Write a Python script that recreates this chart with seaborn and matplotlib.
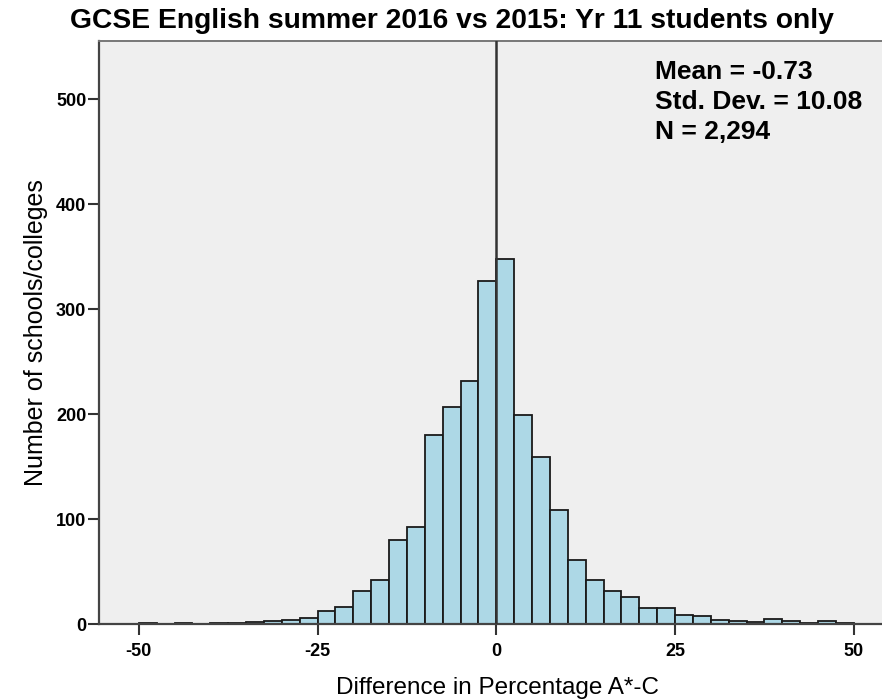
import numpy as np
import pandas as pd
import matplotlib
matplotlib.use("Agg")
import matplotlib.pyplot as plt
import seaborn as sns

# Bin left edges (width 2.5) and counts
bin_starts = [-50, -47.5, -45, -42.5, -40, -37.5, -35, -32.5, -30, -27.5,
              -25, -22.5, -20, -17.5, -15, -12.5, -10, -7.5, -5, -2.5,
              0, 2.5, 5, 7.5, 10, 12.5, 15, 17.5, 20, 22.5,
              25, 27.5, 30, 32.5, 35, 37.5, 40, 42.5, 45, 47.5]
counts = [1, 0, 1, 0, 1, 1, 2, 3, 4, 6,
          13, 17, 32, 42, 80, 93, 180, 207, 232, 327,
          348, 199, 159, 109, 61, 42, 32, 26, 16, 16,
          9, 8, 4, 3, 2, 5, 3, 1, 3, 1]
bin_width = 2.5
x_ticks = [-50, -25, 0, 25, 50]
y_ticks = [0, 100, 200, 300, 400, 500]
title = "GCSE English summer 2016 vs 2015: Yr 11 students only"
x_label = "Difference in Percentage A*-C"
y_label = "Number of schools/colleges"
stats_lines = ["Mean = -0.73", "Std. Dev. = 10.08", "N = 2,294"]

df = pd.DataFrame({"value": [b + bin_width / 2 for b in bin_starts], "count": counts})
edges = list(bin_starts) + [bin_starts[-1] + bin_width]

sns.set_style("white")
plt.rcParams["font.family"] = ["Liberation Sans", "DejaVu Sans"]
plt.rcParams["text.color"] = "black"
plt.rcParams["axes.labelcolor"] = "black"
plt.rcParams["xtick.color"] = "black"
plt.rcParams["ytick.color"] = "black"

fig = plt.figure(figsize=(8.82, 6.99), dpi=100)
ax = fig.add_axes([0.112, 0.1066, 0.895, 0.8344])
ax.set_facecolor("#efefef")

sns.histplot(data=df, x="value", weights="count", bins=edges, ax=ax,
             color="#add8e6", edgecolor="#1a1a1a", linewidth=1.3, alpha=1.0)

ax.axvline(0, color="#333333", linewidth=1.8, zorder=5)

ax.set_xlim(-55.6, 54.8)
ax.set_ylim(0, 555)
ax.set_xticks(x_ticks)
ax.set_yticks(y_ticks)
ax.set_xticklabels([str(t) for t in x_ticks], fontweight="bold", fontsize=13)
ax.set_yticklabels([str(t) for t in y_ticks], fontweight="bold", fontsize=13)
ax.tick_params(axis="x", bottom=True, direction="out", length=8, width=1.5,
               color="#333333", labelcolor="black", pad=5)
ax.tick_params(axis="y", left=True, direction="out", length=8, width=1.5,
               color="#333333", labelcolor="black", pad=1)

for side in ["left", "bottom"]:
    ax.spines[side].set_color("#444444")
    ax.spines[side].set_linewidth(1.6)
ax.spines["top"].set_color("#777777")
ax.spines["top"].set_linewidth(1.4)
ax.spines["right"].set_visible(False)

fig.text(451.5 / 882, 1 - 21 / 699, title, fontsize=20.3, fontweight="bold",
         ha="center", va="center", color="black")
ax.set_xlabel(x_label, fontsize=17.5, color="black")
ax.xaxis.label.set_va("center")
ax.xaxis.set_label_coords(0.505, -0.109)
ax.set_ylabel(y_label, fontsize=18, labelpad=6, color="black")

y_positions = [0.947, 0.896, 0.845]
for line, yp in zip(stats_lines, y_positions):
    ax.text(0.7047, yp, line, transform=ax.transAxes,
            fontsize=19, fontweight="bold", va="center", ha="left", color="black")

fig.savefig("out.png", dpi=100)
